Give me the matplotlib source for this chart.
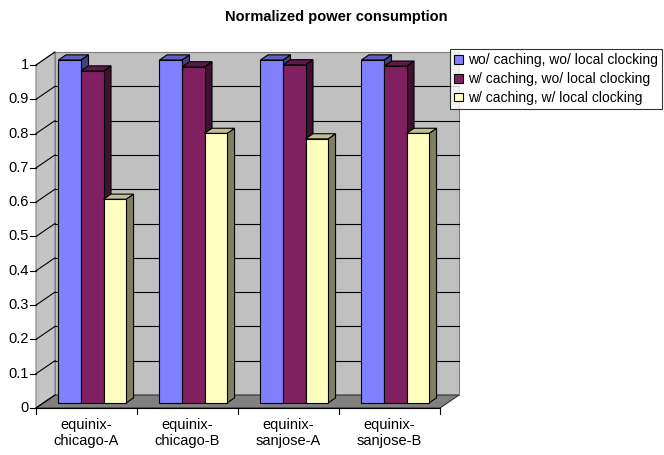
import matplotlib
matplotlib.use("Agg")
import matplotlib.pyplot as plt
from matplotlib.colors import to_rgb
from matplotlib.patches import Polygon, Rectangle, Patch

plt.rcParams["font.family"] = ["Liberation Sans", "DejaVu Sans"]

categories = ["equinix-\nchicago-A", "equinix-\nchicago-B",
              "equinix-\nsanjose-A", "equinix-\nsanjose-B"]
series_names = ["wo/ caching, wo/ local clocking",
                "w/ caching, wo/ local clocking",
                "w/ caching, w/ local clocking"]
no_cache_no_local = [1.0, 1.0, 1.0, 1.0]
cache_no_local = [0.968, 0.98, 0.986, 0.982]
cache_local = [0.594, 0.786, 0.77, 0.786]
y_ticks = [0, 0.1, 0.2, 0.3, 0.4, 0.5, 0.6, 0.7, 0.8, 0.9, 1]
y_tick_labels = ["0", "0.1", "0.2", "0.3", "0.4", "0.5", "0.6", "0.7", "0.8", "0.9", "1"]

colors = ["#8080ff", "#802060", "#ffffc0"]

# pixel layout of the fake 3d box
W, H = 664, 455
X0_PX, Y0_PX = 36, 408      # front bottom-left corner of the plot box
CAT_PX = 101                # width of one category
UNIT_PX = 343               # height of 1.0
DX = 19 / CAT_PX            # depth offset of the back wall
DY = 13 / UNIT_PX
BAR_T0, BAR_T1 = 0.385, 0.78  # bar front / back as fraction of depth
BAR_W = 0.223
BAR_OFF = 0.15


def shade(c, f):
    r, g, b = to_rgb(c)
    return (r * f, g * f, b * f)


def draw_bar(ax, x, v, color):
    ox0, oy0 = BAR_T0 * DX, BAR_T0 * DY
    ox1, oy1 = BAR_T1 * DX, BAR_T1 * DY
    xl, xr = x, x + BAR_W
    side = Polygon([(xr + ox0, oy0), (xr + ox0, v + oy0),
                    (xr + ox1, v + oy1), (xr + ox1, oy1)],
                   closed=True, facecolor=shade(color, 0.5),
                   edgecolor="black", lw=0.8, zorder=5)
    top = Polygon([(xl + ox0, v + oy0), (xr + ox0, v + oy0),
                   (xr + ox1, v + oy1), (xl + ox1, v + oy1)],
                  closed=True, facecolor=shade(color, 0.75),
                  edgecolor="black", lw=0.8, zorder=5)
    front = Rectangle((xl + ox0, oy0), BAR_W, v, facecolor=color,
                      edgecolor="black", lw=0.8, zorder=5)
    ax.add_patch(side)
    ax.add_patch(top)
    ax.add_patch(front)


fig = plt.figure(figsize=(W / 100, H / 100), dpi=100)
ax = fig.add_axes([0, 0, 1, 1])
ax.set_xlim(-X0_PX / CAT_PX, (W - X0_PX) / CAT_PX)
ax.set_ylim((Y0_PX - H) / UNIT_PX, Y0_PX / UNIT_PX)
ax.axis("off")

n = len(categories)
top_val = y_ticks[-1]

# walls and floor
ax.add_patch(Polygon([(0, 0), (DX, DY), (DX, top_val + DY), (0, top_val)],
                     closed=True, facecolor="#c4c4c4", edgecolor="#808080",
                     lw=0.8, zorder=1))
ax.add_patch(Rectangle((DX, DY), n, top_val, facecolor="#c0c0c0",
                       edgecolor="#808080", lw=0.8, zorder=1))
ax.add_patch(Polygon([(0, 0), (n, 0), (n + DX, DY), (DX, DY)],
                     closed=True, facecolor="#808080", edgecolor="#303030",
                     lw=0.8, zorder=2))

# gridlines on the walls and y ticks
for v, lab in zip(y_ticks, y_tick_labels):
    ax.plot([0, DX], [v, v + DY], color="black", lw=0.8, zorder=3)
    if 0 < v < top_val:
        ax.plot([DX, n + DX], [v + DY, v + DY], color="black", lw=0.8, zorder=3)
    ax.plot([-6 / CAT_PX, 0], [v, v], color="black", lw=0.8, zorder=3)
    ax.text(-7 / CAT_PX, v, lab, ha="right", va="center", fontsize=10.5)

# x axis
ax.plot([0, n], [0, 0], color="black", lw=0.8, zorder=3)
for i in range(n + 1):
    ax.plot([i, i], [0, -6 / UNIT_PX], color="black", lw=0.8, zorder=3)
for i, cat in enumerate(categories):
    ax.text(i + 0.5, -10 / UNIT_PX, cat, ha="center", va="top",
            fontsize=10.5, linespacing=1.2)

# bars
series = [no_cache_no_local, cache_no_local, cache_local]
for i in range(n):
    for k, vals in enumerate(series):
        draw_bar(ax, i + BAR_OFF + k * BAR_W, vals[i], colors[k])

fig.text(336 / W, 1 - 17 / H, "Normalized power consumption",
         ha="center", va="center", fontsize=10.5, fontweight="bold")

handles = [Patch(facecolor=c, edgecolor="black", lw=0.8) for c in colors]
leg = fig.legend(handles, series_names, loc="upper left",
                 bbox_to_anchor=(450 / W, 1 - 49 / H), borderaxespad=0,
                 fontsize=10, frameon=True, fancybox=False,
                 handlelength=0.6, handleheight=0.6, handletextpad=0.4,
                 borderpad=0.3, labelspacing=0.35)
leg.get_frame().set_edgecolor("black")
leg.get_frame().set_linewidth(0.8)

fig.savefig("out.png", dpi=100)
